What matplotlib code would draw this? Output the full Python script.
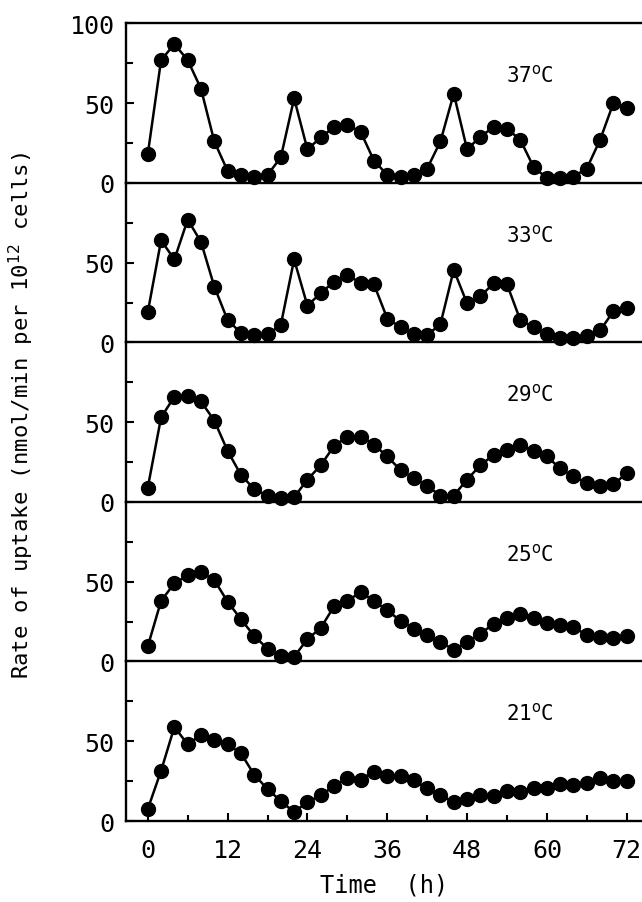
import matplotlib
matplotlib.use("Agg")
import matplotlib.pyplot as plt
import numpy as np

plt.rcParams['font.family'] = ['DejaVu Sans Mono']

time_h = np.arange(0, 73, 2)

rate_37 = [18, 77, 87, 77, 59, 26, 7.5, 5, 4, 5, 16, 53, 21, 28.5, 35, 36.5, 32, 14, 5,
           4, 5, 9, 26, 56, 21, 29, 35, 34, 27, 10, 3, 3, 4, 9, 27, 50, 47]
rate_33 = [19, 64, 52, 77, 63, 35, 14, 6, 4.5, 5, 11, 52, 23, 31, 38, 42, 37.5, 36.5, 15,
           9.5, 5.5, 4.5, 11.5, 45.5, 24.5, 29, 37, 36.5, 14, 9.5, 5, 2.5, 3, 4, 7.5, 19.5, 21.5]
rate_29 = [9, 53, 66, 66.5, 63, 51, 32, 17, 8, 4, 2.5, 3, 14, 23, 35, 41, 41, 36, 28.5,
           20, 15, 10, 4, 4, 14, 23, 29.5, 32.5, 36, 32, 28.5, 21, 16, 12, 10, 11, 18]
rate_25 = [9.5, 38, 49, 54, 56, 51, 37.5, 26.5, 16, 8, 3.5, 3, 14, 21, 34.5, 38, 43.5, 38, 32,
           25.5, 20.5, 16.5, 12, 7.5, 12, 17.5, 23.5, 27, 30, 27, 24, 23, 21.5, 16.5, 15.5, 15, 16]
rate_21 = [7.5, 31.5, 59, 48, 54, 51, 48, 42.5, 29, 20, 12.5, 5.5, 12, 16, 22, 27, 26, 31, 28.5,
           28, 25.5, 20.5, 16, 12, 14, 16.5, 15.5, 19, 18, 20.5, 20.5, 23, 22.5, 24, 27, 25, 25]

temps = ["37", "33", "29", "25", "21"]
series = [rate_37, rate_33, rate_29, rate_25, rate_21]
x_ticks = [0, 12, 24, 36, 48, 60, 72]

fig = plt.figure(figsize=(6.42, 9.03), dpi=100)
left, right, bottom, top = 0.196, 1.0, 0.0897, 0.973
h = (top - bottom) / 5

for i, (temp, vals) in enumerate(zip(temps, series)):
    ax = fig.add_axes([left, top - (i + 1) * h, right - left, h])
    ax.plot(time_h, vals, color='black', lw=1.8, marker='o', ms=10,
            markerfacecolor='black', markeredgecolor='black', clip_on=False)
    ax.set_xlim(-3.3, 74.3)
    ax.set_ylim(0, 100)
    ax.spines['right'].set_visible(False)
    ax.spines['top'].set_visible(i == 0)
    for s in ['left', 'bottom', 'top']:
        ax.spines[s].set_linewidth(1.7)
    ax.set_yticks([0, 50, 100] if i == 0 else [0, 50])
    ax.set_yticks([25, 75], minor=True)
    ax.tick_params(axis='y', which='both', direction='in', width=1.5, labelsize=18, pad=8)
    ax.tick_params(axis='y', which='major', length=6)
    ax.tick_params(axis='y', which='minor', length=5)
    ax.text(57.5, 68, temp + r"$^{\mathrm{o}}$C", fontsize=15, ha='center', va='center')
    if i < 4:
        ax.set_xticks([])
        ax.set_xticks([], minor=True)
    else:
        ax.set_xticks(x_ticks)
        ax.set_xticks(np.arange(6, 73, 12), minor=True)
        ax.tick_params(axis='x', which='both', direction='in', width=1.5, labelsize=18, pad=12)
        ax.tick_params(axis='x', which='major', length=6)
        ax.tick_params(axis='x', which='minor', length=4)
        ax.set_xlabel("Time  (h)", fontsize=17, labelpad=8)
    ax.patch.set_alpha(0)

fig.text(0.034, 1 - 415 / 903, r"Rate of uptake (nmol/min per 10$^{12}$ cells)",
         rotation=90, fontsize=16, ha='center', va='center')

fig.savefig("out.png", dpi=100)
